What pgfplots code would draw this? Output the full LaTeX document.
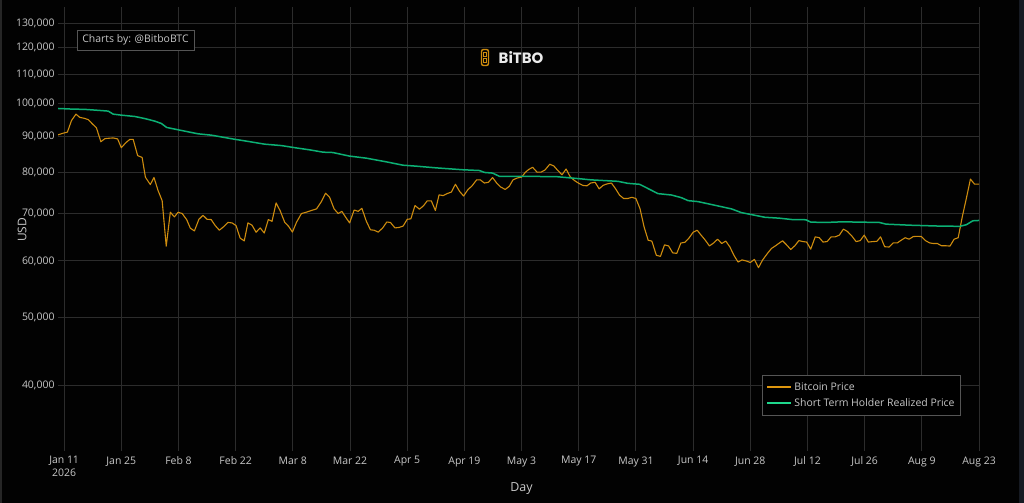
\documentclass[border=0pt]{standalone}
\usepackage{fontspec}
\setmainfont{Open Sans}
\newfontfamily\logofont{Poppins}
\usepackage{pgfplots}
\pgfplotsset{compat=1.18}
\usepackage{pgfplotstable}
\definecolor{bg}{RGB}{2,2,2}
\definecolor{gridc}{RGB}{44,44,44}
\definecolor{tickc}{RGB}{200,200,200}
\definecolor{btc}{RGB}{206,140,14}
\definecolor{sth}{RGB}{12,176,116}
\definecolor{sthleg}{RGB}{30,215,140}
\definecolor{btcleg}{RGB}{222,150,14}
\definecolor{boxc}{RGB}{85,85,85}
\definecolor{stripc}{RGB}{22,26,34}

\pgfplotstableread{
day price
-1.5 90400
-0.2 90900
0.8 91200
1.8 94700
2.9 96700
3.8 95700
4.9 95400
5.9 95000
6.9 93700
7.9 92500
9.0 88400
10 89300
10.9 89400
12 89500
13.1 89200
14 86700
15.1 88100
16.1 89100
16.9 89100
18 84500
19.1 84000
19.9 78770
21.1 76920
22 78700
23 75430
24 73000
25 62950
26 70300
27 69240
27.9 70300
28.9 70000
30 68640
30.9 66740
31.9 66160
33 68700
34 69600
35 68700
36 68640
37 67310
38 66300
39.1 67100
40.1 68000
41.1 67900
42.1 67300
43.1 64610
44.1 64050
45 67900
46 67400
47 65870
48 66800
49 65700
50 68640
50.9 68250
51.9 72460
52.9 70630
54 68050
55 67100
55.9 65900
56.9 68050
58.1 70000
59.3 70300
60.5 70680
61.8 71070
63 72780
64 74780
65 73800
66.1 71070
67.1 70000
68 70500
68.9 69200
69.9 67900
71 70800
72 70500
72.9 71200
74 68250
75 66400
75.9 66300
76.9 65900
78 66800
79 68100
79.9 68000
81 66800
82 66900
83 67200
84 68700
84.9 68800
85.9 71850
87 71000
88 71800
88.9 72950
89.9 72950
90.9 70700
91.8 74390
92.8 74200
93.8 74700
94.8 75050
95.8 77000
96.8 75260
97.8 74100
98.9 75700
99.8 76500
101 78100
101.9 78100
102.9 77300
103.9 77500
104.9 78700
105.9 77300
106.9 76300
108 75700
109 76500
109.9 78100
111 78600
112 78800
112.9 80000
113.7 80740
114.7 81360
115.8 80060
116.8 80100
117.7 80600
118.9 82160
119.9 81700
120.8 80600
121.9 79400
122.9 80900
123.9 78900
124.9 77960
125.9 77300
127 76700
128 76600
128.9 77300
130 77500
131 75860
132 76740
133 77100
134 77300
135 75900
136 74300
137 73500
138 73500
139 73800
140 73500
141 71120
142 67010
143 64170
143.9 64000
145 61110
146 60900
147 63220
148 63000
149 61600
150 61500
151 63600
152 63750
153 64650
154 65860
155 66300
156 65200
157 64170
158 63000
159 63600
160 64400
161 63500
162 64000
163 62800
164 61100
165 59790
166 60200
167 60000
168 59700
169 60300
170 58700
171 60170
172.2 61490
173.2 62500
174.2 63040
175.2 63660
175.9 64060
176.8 63300
177.9 62280
178.9 63040
179.9 64100
180.9 63900
181.8 63800
182.8 62350
183.9 64890
184.9 64700
185.8 63800
186.8 63900
187.8 64890
188.8 64890
189.8 65250
190.8 66540
191.8 66030
192.9 65030
193.9 63900
194.9 64100
195.9 65250
196.9 63800
198 63900
199 63950
199.9 64890
200.9 62840
202 62770
203 63630
204 63630
204.9 64150
205.9 64700
206.9 64400
207.9 64950
208.9 65000
209.9 64950
210.9 64100
211.9 63630
212.8 63500
213.8 63500
214.8 63040
215.8 63040
216.9 62970
217.9 64400
218.9 64700
219.9 69250
220.9 73530
221.9 78290
222.9 77020
224 77020
}\btcdata

\pgfplotstableread{
day price
-1.5 98490
1.8 98300
5.1 98200
8.3 97900
10.8 97650
12 96700
14 96380
17.3 95960
19.8 95300
22.2 94520
23.8 93800
25.1 92600
27.9 91900
32.8 90700
36.1 90300
41.8 89100
45 88500
49.1 87700
53.2 87300
56.5 86700
60.1 86100
63.4 85450
65.8 85350
69.9 84360
74 83800
78.9 82800
83 81900
86.2 81650
91.1 81200
97.6 80700
101.7 80500
102.9 80000
104.9 79850
106.6 79000
112.7 79020
120.8 78900
125.8 78430
129 78100
135.6 77730
138 77230
140.9 76980
143 75910
145.4 74680
148.7 74350
151.1 73720
152.8 73000
155.2 72770
160.1 71750
163.4 71060
165.8 70220
171.6 69150
175 68960
178.3 68640
181.6 68600
182.8 68070
186.5 68000
190.6 68140
194.7 68070
199.6 68000
201.2 67630
206.9 67400
214.3 67200
219.3 67150
220.9 67500
222.5 68370
224 68440
}\sthdata

\begin{document}
\begin{tikzpicture}[x=1bp,y=1bp]
\fill[bg] (0,0) rectangle (1024,-503);
\fill[stripc] (1019,0) rectangle (1024,-503);
\fill[black!85!white] (0,0) rectangle (2,-503);
\begin{axis}[
  at={(58bp,-451bp)}, anchor=south west,
  scale only axis, width=921bp, height=444bp,
  xmin=-1.5, xmax=224,
  ymode=log, ymin=32350, ymax=137000,
  axis line style={draw=none},
  major tick length=0pt,
  grid=major,
  major grid style={color=gridc, line width=0.9bp},
  xtick={0,14,28,42,56,70,84,98,112,126,140,154,168,182,196,210,224},
  xticklabels={{Jan 11\\2026},{Jan 25},{Feb 8},{Feb 22},{Mar 8},{Mar 22},{Apr 5},{Apr 19},{May 3},{May 17},{May 31},{Jun 14},{Jun 28},{Jul 12},{Jul 26},{Aug 9},{Aug 23}},
  ytick={40000,50000,60000,70000,80000,90000,100000,110000,120000,130000},
  yticklabels={{40,000},{50,000},{60,000},{70,000},{80,000},{90,000},{100,000},{110,000},{120,000},{130,000}},
  tick label style={font=\fontsize{10.5}{12.5}\selectfont, text=tickc},
  xticklabel style={align=center, yshift=-2bp},
  yticklabel style={xshift=0bp},
  legend style={at={(0.7644,0.1712)}, anchor=north west, draw=boxc, line width=0.8bp,
    fill=black, text=tickc, font=\fontsize{10.5}{12.5}\selectfont,
    inner xsep=4bp, inner ysep=5bp, row sep=3bp},
  legend cell align=left,
  legend image code/.code={\draw[#1, line width=2bp] (0bp,0bp) -- (24bp,0bp);},
]
\addplot[btc, line width=1.1bp, line join=round, forget plot] table[x=day,y=price] {\btcdata};
\addplot[sth, line width=1.5bp, line join=round, forget plot] table[x=day,y=price] {\sthdata};
\addlegendimage{btcleg, line width=2bp}
\addlegendentry{Bitcoin Price}
\addlegendimage{sthleg, line width=2bp}
\addlegendentry{Short Term Holder Realized Price}
\end{axis}
\node[draw=boxc, line width=0.8bp, fill=black, text=tickc, font=\fontsize{10.5}{12.5}\selectfont,
  minimum width=117bp, minimum height=20bp, inner sep=0pt] at (135.5,-40) {Charts by: @BitboBTC};
\node[text=tickc, font=\fontsize{12}{14}\selectfont, rotate=90] at (22,-230) {USD};
\node[text=tickc, font=\fontsize{12.5}{14}\selectfont] at (521.5,-489) {Day};
\draw[btc, line width=1.4bp, rounded corners=2bp] (481.5,-49.5) rectangle (488.5,-65.5);
\draw[btc, line width=1bp] (483.5,-53) -- (486.5,-53) -- (486.5,-57) -- (483.5,-57) -- cycle;
\draw[btc, line width=1bp] (483.5,-59) -- (486.5,-59) -- (486.5,-62.5) -- (483.5,-62.5) -- cycle;
\node[text=white!92!black, font=\logofont\bfseries\fontsize{15}{15}\selectfont, anchor=west, inner sep=0pt] at (498.5,-57.5) {BiTBO};
\end{tikzpicture}
\end{document}
